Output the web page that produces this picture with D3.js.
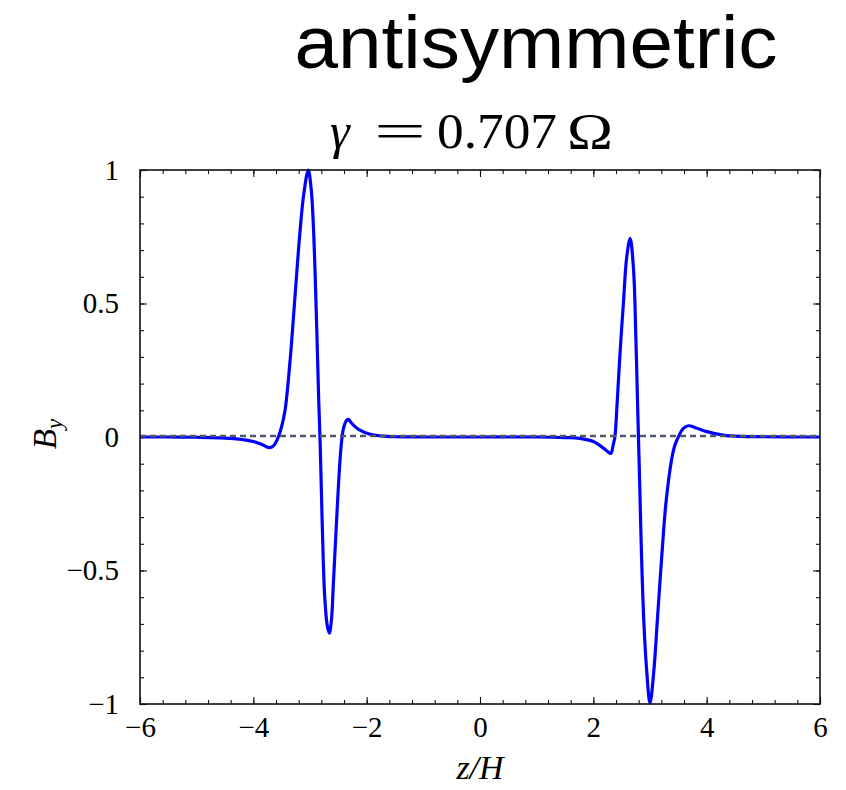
<!DOCTYPE html>
<html><head><meta charset="utf-8">
<script src="https://cdn.jsdelivr.net/npm/d3@7"></script>
<style>body{margin:0;background:#fff}</style>
</head><body>
<svg id="c" width="846" height="790"></svg>
<script>
// ---- data ----
const zValues = [
  -6, -5.5, -5.0, -4.6, -4.3, -4.0, -3.85, -3.72, -3.64, -3.56, -3.5, -3.44, -3.35, -3.26, -3.18, -3.11, -3.03,
  -2.98, -2.94, -2.88, -2.845, -2.82, -2.79, -2.765, -2.74, -2.70, -2.66, -2.62, -2.59, -2.53, -2.47, -2.43, -2.40, -2.35,
  -2.32, -2.28, -2.20, -2.12, -1.94, -1.75, -1.5, -1.0, 0, 1.0, 1.5, 1.76, 2.0, 2.18, 2.26, 2.31, 2.35, 2.38,
  2.42, 2.47, 2.53, 2.59, 2.65, 2.71, 2.75, 2.78, 2.80, 2.82, 2.85, 2.89, 2.94, 3.0, 3.07, 3.13, 3.21, 3.28,
  3.38, 3.44, 3.50, 3.58, 3.68, 3.8, 4.0, 4.29, 4.6, 5.0, 5.5, 6
];
const byValues = [
  0, 0, -0.001, -0.003, -0.007, -0.017, -0.028, -0.040, -0.032, 0, 0.04, 0.10, 0.29, 0.54, 0.76, 0.91, 1.0,
  0.93, 0.79, 0.40, 0.13, -0.03, -0.28, -0.47, -0.60, -0.70, -0.735, -0.68, -0.56, -0.31, -0.086, 0.007, 0.04, 0.063,
  0.066, 0.055, 0.038, 0.026, 0.01, 0.004, 0.001, 0, 0, 0, -0.002, -0.005, -0.017, -0.042, -0.056, -0.061, -0.03, 0,
  0.126, 0.31, 0.50, 0.675, 0.744, 0.625, 0.376, 0.13, -0.03, -0.19, -0.44, -0.685, -0.87, -0.997, -0.87, -0.685, -0.44, -0.25,
  -0.086, -0.03, 0, 0.03, 0.042, 0.035, 0.02, 0.007, 0.002, 0.001, 0, 0
];
const xTickLabels = [-6, -4, -2, 0, 2, 4, 6];
const yTickLabels = [-1, -0.5, 0, 0.5, 1];
const xMinorStep = 0.4;
const yMinorStep = 0.1;
const titleText = "antisymmetric";
const xLabel = "z/H";

// ---- layout ----
const svg = d3.select("#c");
const L = 140, R = 820, T = 170, B = 704;
const x = d3.scaleLinear().domain([-6, 6]).range([L, R]);
const y = d3.scaleLinear().domain([-1, 1]).range([B, T]);
const xMinor = d3.range(-6, 6.0001, xMinorStep).map(v => +v.toFixed(2));
const yMinor = d3.range(-1, 1.0001, yMinorStep).map(v => +v.toFixed(2));
const fmt = d => d3.format("~g")(d);
const tickFont = "'Liberation Serif', 'Times New Roman', serif";

function styleAxis(g, size) {
  g.select(".domain").remove();
  g.selectAll(".tick line").attr("stroke", "#111").attr("stroke-width", 1.1);
  g.selectAll("text").attr("font-family", tickFont).attr("font-size", size).attr("fill", "#000");
}

// minor ticks
svg.append("g").attr("transform", `translate(0,${B})`)
  .call(d3.axisBottom(x).tickValues(xMinor).tickSize(-4).tickFormat("")).call(g => styleAxis(g, 0));
svg.append("g").attr("transform", `translate(0,${T})`)
  .call(d3.axisTop(x).tickValues(xMinor).tickSize(-4).tickFormat("")).call(g => styleAxis(g, 0));
svg.append("g").attr("transform", `translate(${L},0)`)
  .call(d3.axisLeft(y).tickValues(yMinor).tickSize(-4).tickFormat("")).call(g => styleAxis(g, 0));
svg.append("g").attr("transform", `translate(${R},0)`)
  .call(d3.axisRight(y).tickValues(yMinor).tickSize(-4).tickFormat("")).call(g => styleAxis(g, 0));

// major ticks
svg.append("g").attr("transform", `translate(0,${B})`)
  .call(d3.axisBottom(x).tickValues(xTickLabels).tickSize(-7).tickPadding(12).tickFormat(fmt))
  .call(g => styleAxis(g, 29));
svg.append("g").attr("transform", `translate(0,${T})`)
  .call(d3.axisTop(x).tickValues(xTickLabels).tickSize(-7).tickFormat("")).call(g => styleAxis(g, 0));
svg.append("g").attr("transform", `translate(${L},0)`)
  .call(d3.axisLeft(y).tickValues(yTickLabels).tickSize(-7).tickPadding(21).tickFormat(fmt))
  .call(g => styleAxis(g, 29));
svg.append("g").attr("transform", `translate(${R},0)`)
  .call(d3.axisRight(y).tickValues(yTickLabels).tickSize(-7).tickFormat("")).call(g => styleAxis(g, 0));

// curve
const line = d3.line().x((d, i) => x(zValues[i])).y((d, i) => y(byValues[i])).curve(d3.curveCatmullRom.alpha(0.5));
svg.append("path").datum(byValues).attr("d", line)
  .attr("fill", "none").attr("stroke", "#0000ff").attr("stroke-width", 3.2).attr("stroke-linejoin", "round");

// zero dashed line
svg.append("line").attr("x1", x(-6)).attr("x2", x(6)).attr("y1", y(0) - 1).attr("y2", y(0) - 1)
  .attr("stroke", "#4f586a").attr("stroke-width", 2.4).attr("stroke-dasharray", "6,4");

// frame
svg.append("rect").attr("x", L).attr("y", T).attr("width", R - L).attr("height", B - T)
  .attr("fill", "none").attr("stroke", "#111").attr("stroke-width", 1.6);

// title
svg.append("text").attr("x", 536).attr("y", 68).attr("text-anchor", "middle")
  .attr("font-family", "'Liberation Sans', Arial, sans-serif").attr("font-size", 74)
  .attr("textLength", 483).attr("lengthAdjust", "spacingAndGlyphs").text(titleText);

// subtitle  γ = 0.707 Ω
const sub = svg.append("g").attr("font-family", tickFont).attr("font-size", 50);
sub.append("text").attr("x", 330).attr("y", 148).attr("font-style", "italic").text("γ");
sub.append("text").attr("x", 374).attr("y", 148).attr("textLength", 52).attr("lengthAdjust", "spacingAndGlyphs").text("=");
sub.append("text").attr("x", 437).attr("y", 148).attr("textLength", 120).attr("lengthAdjust", "spacingAndGlyphs").text("0.707");
sub.append("text").attr("x", 567).attr("y", 148).attr("textLength", 46).attr("lengthAdjust", "spacingAndGlyphs").text("Ω");

// x label
svg.append("text").attr("x", 480).attr("y", 779).attr("text-anchor", "middle")
  .attr("font-family", tickFont).attr("font-size", 34).attr("font-style", "italic").text(xLabel);

// y label B_y
const yl = svg.append("text").attr("transform", "translate(56,434) rotate(-90)").attr("text-anchor", "middle")
  .attr("font-family", tickFont).attr("font-size", 33).attr("font-style", "italic");
yl.append("tspan").text("B");
yl.append("tspan").attr("font-size", 23).attr("dy", 6).text("y");
</script>
</body></html>
